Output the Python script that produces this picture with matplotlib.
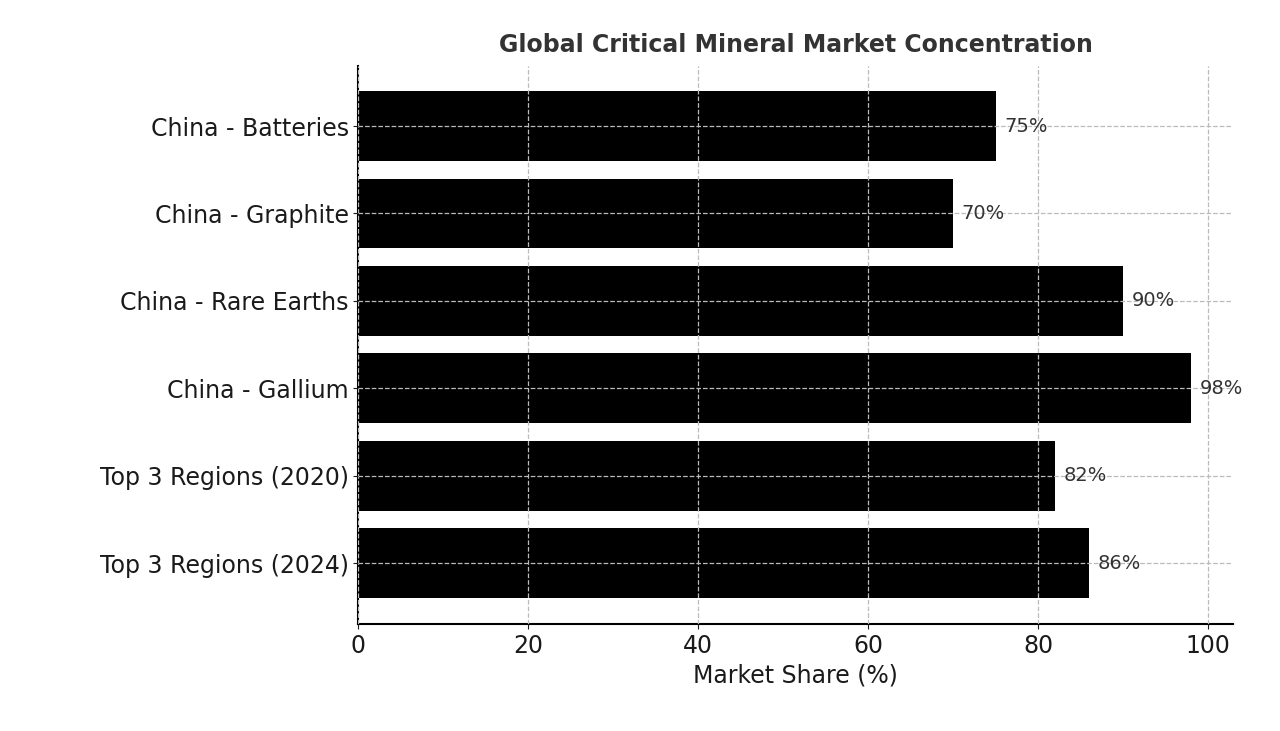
import matplotlib.pyplot as plt

# ── Data ──────────────────────────────────────────────────────────────────────
categories = [
    "China - Batteries",
    "China - Graphite",
    "China - Rare Earths",
    "China - Gallium",
    "Top 3 Regions (2020)",
    "Top 3 Regions (2024)",
]
shares = [75, 70, 90, 98, 82, 86]

fig = plt.figure(figsize=(12.8, 7.31), dpi=100)
ax = fig.add_axes([0.28, 0.146, 0.683, 0.764])

ypos = list(range(len(categories)))[::-1]
ax.barh(ypos, shares, height=0.8, color="black")
for y, v in zip(ypos, shares):
    ax.text(v + 1, y, f"{v}%", va="center", ha="left", fontsize=14, color="#333333")

ax.set_yticks(ypos)
ax.set_yticklabels(categories)
ax.set_xlim(0, 102.9)
ax.set_ylim(-0.7, 5.69)
ax.tick_params(labelsize=17, colors="#1a1a1a")
ax.set_xlabel("Market Share (%)", fontsize=17, color="#1a1a1a")
ax.set_title("Global Critical Mineral Market Concentration", fontsize=17,
             fontweight="bold", color="#333333", pad=10)
ax.grid(True, linestyle="--", color="#bbbbbb", linewidth=0.9)
ax.set_axisbelow(False)
ax.spines[["top", "right"]].set_visible(False)
ax.spines[["left", "bottom"]].set_linewidth(1.5)

fig.savefig("out.png", dpi=100)
